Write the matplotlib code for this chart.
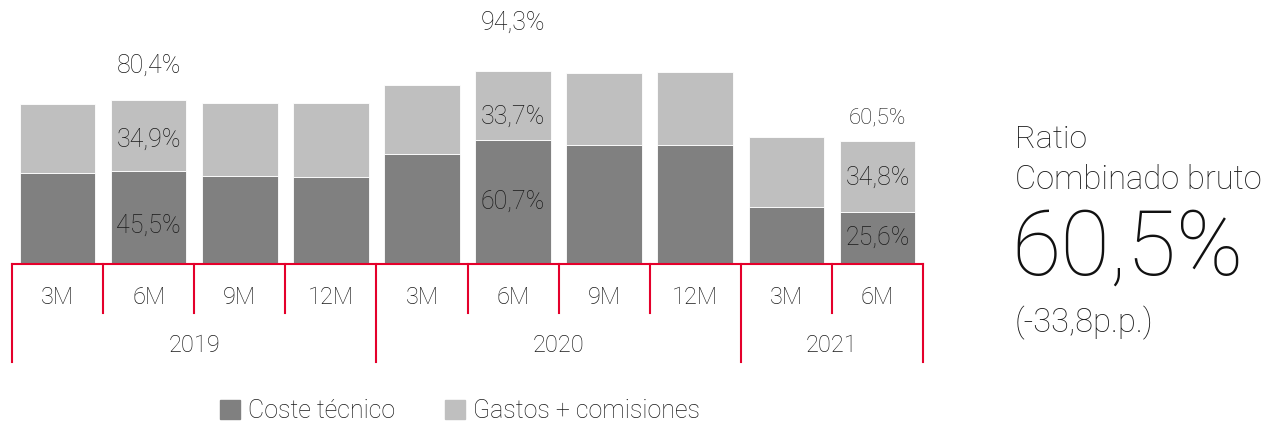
import numpy as np
import matplotlib
matplotlib.use("Agg")
import matplotlib.pyplot as plt
from matplotlib.patches import Patch

plt.rcParams["font.family"] = ["Roboto", "DejaVu Sans"]
plt.rcParams["font.weight"] = "light"

# ------------------ data ------------------
months = ["3M", "6M", "9M", "12M", "3M", "6M", "9M", "12M", "3M", "6M"]
years = ["2019", "2020", "2021"]
year_counts = [4, 4, 2]
coste = np.array([44.6, 45.5, 43.1, 42.6, 53.9, 60.7, 58.3, 58.3, 27.9, 25.6])
gastos = np.array([33.8, 34.9, 35.8, 36.3, 33.8, 33.7, 35.3, 35.8, 34.3, 34.8])

# labelled bars: index -> (coste label, gastos label, total label)
labels = {
    1: ("45,5%", "34,9%", "80,4%"),
    5: ("60,7%", "33,7%", "94,3%"),
    9: ("25,6%", "34,8%", "60,5%"),
}
# label placement tweaks, in pixels (positive = up)
dark_shift = {1: -8, 5: 0, 9: 0}
light_shift = {1: -4, 5: -11, 9: -1}
total_offset = {1: 34, 5: 49, 9: 23}
total_size = {1: 18, 5: 18, 9: 16}

c_dark = "#808080"
c_light = "#bfbfbf"
c_red = "#e4002b"
c_txt = "#1a1a1a"

W, H = 1270, 424
fig = plt.figure(figsize=(W / 100, H / 100), dpi=100)
ax = fig.add_axes([12 / W, (H - 264) / H, 911 / W, 264 / H])

x = np.arange(len(months))
ax.bar(x, coste, width=0.83, color=c_dark, edgecolor="white", linewidth=0.6)
ax.bar(x, gastos, bottom=coste, width=0.83, color=c_light, edgecolor="white", linewidth=0.6)
ax.set_xlim(-0.5, len(months) - 0.5)
ax.set_ylim(0, 264 / 2.04)
ax.axis("off")

pt = 0.72  # points per pixel at dpi 100
for i, (l_dark, l_light, l_tot) in labels.items():
    ax.annotate(l_dark, (i, coste[i] / 2), xytext=(0, dark_shift[i] * pt),
                textcoords="offset points", ha="center", va="center", fontsize=18, color=c_txt)
    ax.annotate(l_light, (i, coste[i] + gastos[i] / 2), xytext=(0, light_shift[i] * pt),
                textcoords="offset points", ha="center", va="center", fontsize=18, color=c_txt)
    ax.annotate(l_tot, (i, coste[i] + gastos[i]), xytext=(0, total_offset[i] * pt),
                textcoords="offset points", ha="center", va="center",
                fontsize=total_size[i], color=c_txt)

# category table with red lines
px = 1 / 264  # one pixel in axes fraction (vertical)
tr = ax.get_xaxis_transform()
ax.plot([-0.5, len(months) - 0.5], [0, 0], color=c_red, lw=1.5, transform=tr, clip_on=False)
edges = np.arange(len(months) + 1) - 0.5
group_edges = np.concatenate([[0], np.cumsum(year_counts)]) - 0.5
for e in edges:
    bottom = -98 * px if e in group_edges else -49 * px
    ax.plot([e, e], [0, bottom], color=c_red, lw=1.5, transform=tr, clip_on=False)
for i, m in enumerate(months):
    ax.text(i, -33 * px, m, ha="center", va="center", fontsize=17, color=c_txt, transform=tr)
for k, yr in enumerate(years):
    mid = (group_edges[k] + group_edges[k + 1]) / 2
    ax.text(mid, -82 * px, yr, ha="center", va="center", fontsize=17, color=c_txt, transform=tr)

# right-hand summary
fig.text(1015 / W, 1 - 140 / H, "Ratio", fontsize=23, color=c_txt, va="center")
fig.text(1015 / W, 1 - 180 / H, "Combinado bruto", fontsize=23.5, color=c_txt, va="center")
fig.text(1011 / W, 1 - 250 / H, "60,5%", fontsize=65, color="#111111", va="center")
fig.text(1015 / W, 1 - 323 / H, "(-33,8p.p.)", fontsize=23.5, color=c_txt, va="center")

handles = [Patch(color=c_dark, label="Coste técnico"),
           Patch(color=c_light, label="Gastos + comisiones")]
fig.legend(handles=handles, loc="center", bbox_to_anchor=(460 / W, 1 - 411 / H), ncol=2,
           frameon=False, fontsize=18, handlelength=0.8, handleheight=0.8,
           handletextpad=0.3, columnspacing=2.0, labelcolor=c_txt)

fig.savefig("out.png", dpi=100)
